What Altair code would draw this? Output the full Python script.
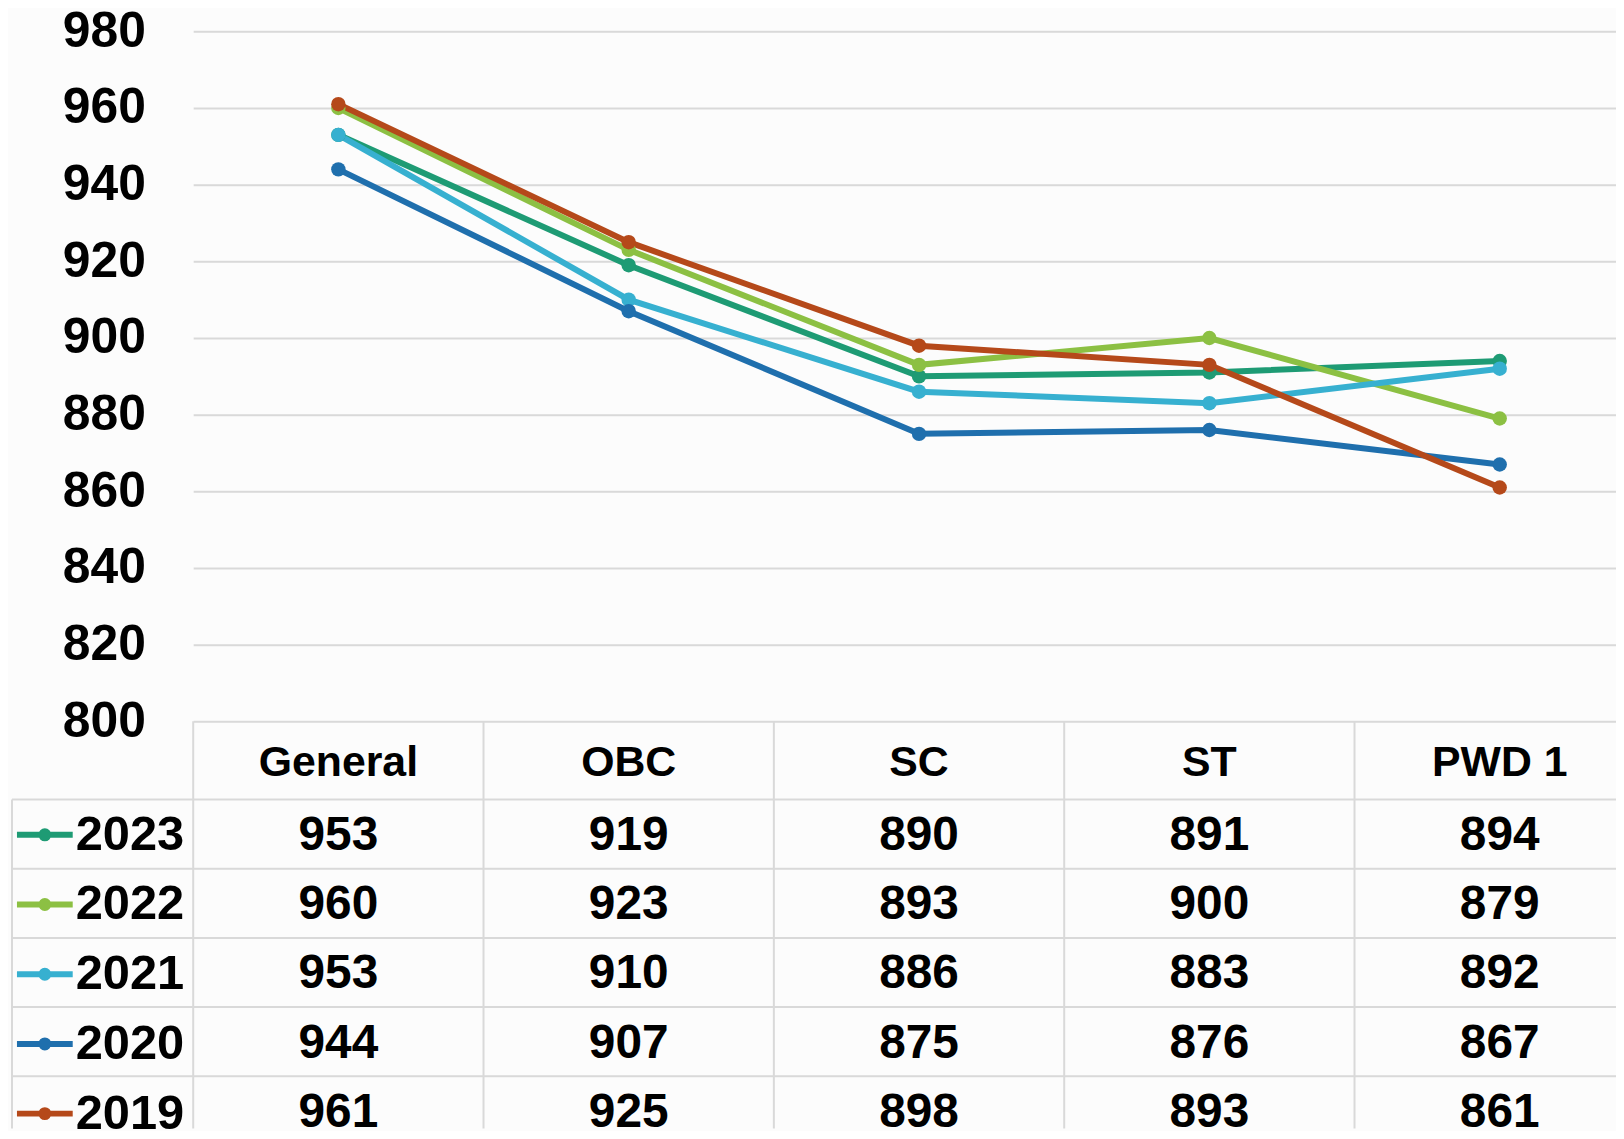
import altair as alt
import pandas as pd

categories = ["General", "OBC", "SC", "ST", "PWD 1"]
years = ["2023", "2022", "2021", "2020", "2019"]
v2023 = [953, 919, 890, 891, 894]
v2022 = [960, 923, 893, 900, 879]
v2021 = [953, 910, 886, 883, 892]
v2020 = [944, 907, 875, 876, 867]
v2019 = [961, 925, 898, 893, 861]
colors = ["#1e9b74", "#8cc043", "#37b0d0", "#1f6fad", "#b5491a"]
y_ticks = [800, 820, 840, 860, 880, 900, 920, 940, 960, 980]

series = [v2023, v2022, v2021, v2020, v2019]
df = pd.DataFrame(
    [{"category": c, "year": y, "row": y, "value": v}
     for y, vals in zip(years, series) for c, v in zip(categories, vals)]
)
hdr = pd.DataFrame({"category": categories, "row": ["hdr"] * len(categories)})
rows_df = pd.DataFrame({"row": years})
first_row = pd.DataFrame({"row": [years[0]]})
cats_df = pd.DataFrame({"category": categories})
rows_domain = ["hdr"] + years

W, H = 1429, 1102
PLOT_H = 693
GRID = "#d9d9d9"
FONT = "Liberation Sans"

xscale = alt.Scale(type="band", domain=categories, range=[0, 1458], paddingInner=0, paddingOuter=0)
rowscale = alt.Scale(type="band", domain=rows_domain, range=[702, 1119], paddingInner=0, paddingOuter=0)

legend_path = "M-1,0L1,0M0.125,0A0.125,0.125,0,1,1,-0.125,0A0.125,0.125,0,1,1,0.125,0Z"

lines = alt.Chart(df).mark_line(
    strokeWidth=6, point=alt.OverlayMarkDef(filled=True, size=210, opacity=1)
).encode(
    x=alt.X("category:N", sort=categories, bandPosition=0.5, scale=xscale, axis=None),
    y=alt.Y("value:Q",
            scale=alt.Scale(domain=[800, 980], range=[PLOT_H, 0], zero=False, nice=False),
            axis=alt.Axis(values=y_ticks, title=None, grid=True, gridColor=GRID, gridWidth=2,
                          domain=False, ticks=False, tickSize=0, labelPadding=48,
                          labelFont=FONT, labelFontSize=50, labelFontWeight="bold",
                          labelColor="#000000")),
    color=alt.Color("year:N",
                    scale=alt.Scale(domain=years, range=colors),
                    legend=alt.Legend(orient="none", legendX=-180, legendY=776, title=None,
                                      direction="vertical", symbolType=legend_path,
                                      symbolSize=3136, symbolStrokeWidth=6, symbolOffset=0,
                                      labelFont=FONT, labelFontSize=49, labelFontWeight="bold",
                                      labelColor="#000000", labelOffset=0, rowPadding=14,
                                      padding=0, labelLimit=400)),
)

values_text = alt.Chart(df).mark_text(
    font=FONT, fontSize=48, fontWeight="bold", color="#000000", align="center",
    baseline="middle", dy=2
).encode(
    x=alt.X("category:N", sort=categories, bandPosition=0.5, scale=xscale, axis=None),
    y=alt.Y("row:N", bandPosition=0.5, scale=rowscale, axis=None),
    text=alt.Text("value:Q"),
)

header_text = alt.Chart(hdr).mark_text(
    font=FONT, fontSize=43, fontWeight="bold", color="#000000", align="center",
    baseline="middle", dy=-2
).encode(
    x=alt.X("category:N", sort=categories, bandPosition=0.5, scale=xscale, axis=None),
    y=alt.Y("row:N", bandPosition=0.5, scale=rowscale, axis=None),
    text=alt.Text("category:N"),
)

h_rules = alt.Chart(rows_df).mark_rule(color=GRID, strokeWidth=2).encode(
    y=alt.Y("row:N", bandPosition=0, scale=rowscale, axis=None),
    x=alt.value(-182),
    x2=alt.value(W),
)

v_rules = alt.Chart(cats_df).mark_rule(color=GRID, strokeWidth=2).encode(
    x=alt.X("category:N", sort=categories, bandPosition=0, scale=xscale, axis=None),
    y=alt.value(PLOT_H),
    y2=alt.value(H),
)

left_border = alt.Chart(first_row).mark_rule(color=GRID, strokeWidth=2).encode(
    y=alt.Y("row:N", bandPosition=0, scale=rowscale, axis=None),
    y2=alt.value(H),
    x=alt.value(-182),
)

chart = alt.layer(
    v_rules, h_rules, left_border, header_text, values_text, lines
).resolve_scale(
    y="independent"
).properties(
    width=W,
    height=H,
    autosize=alt.AutoSizeParams(type="none"),
    padding={"left": 186, "top": 21, "right": 0, "bottom": 0},
    background="#fcfcfc",
).configure_view(stroke=None)

chart.save("out.html", embed_options={"renderer": "svg", "actions": False})
